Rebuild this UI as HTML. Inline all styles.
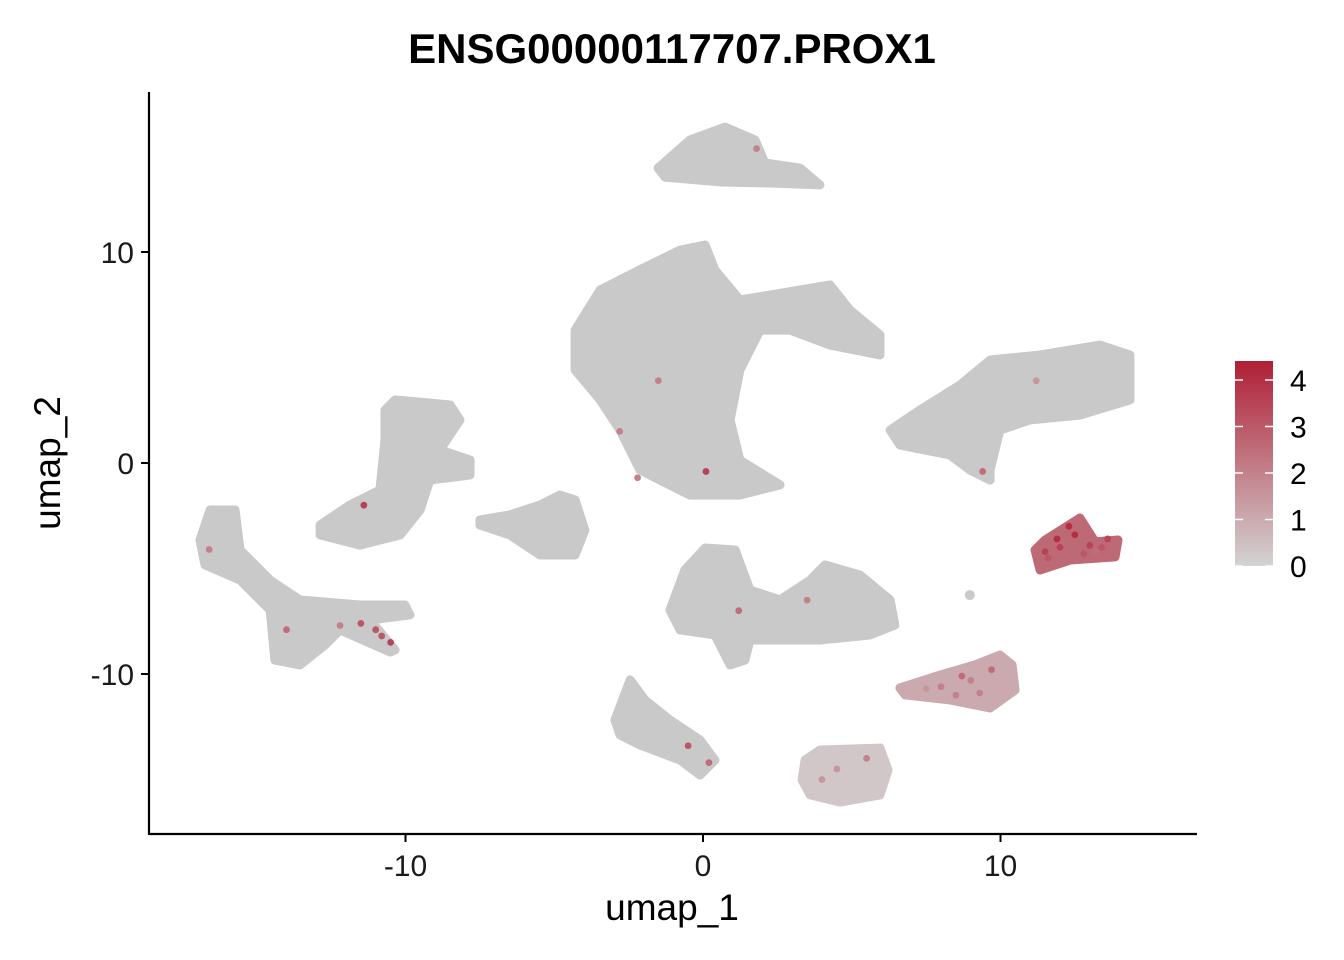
<!DOCTYPE html>
<html><head><meta charset="utf-8"><style>
html,body{margin:0;padding:0;background:#fff;}
svg{display:block;font-family:"Liberation Sans",Arial,sans-serif;}
</style></head><body>
<svg id="chart" width="1344" height="960" viewBox="0 0 1344 960" xmlns="http://www.w3.org/2000/svg">
<defs><linearGradient id="cbar" x1="0" y1="1" x2="0" y2="0">
<stop offset="0" stop-color="#d3d3d3"/><stop offset="1" stop-color="#b01f35"/></linearGradient></defs>
<text x="672" y="63" text-anchor="middle" font-size="42" font-weight="bold">ENSG00000117707.PROX1</text>
<g id="clusters"></g>
<g id="points"></g>
<g id="axes"></g>
<g>
<rect x="1235" y="361" width="38" height="205" fill="url(#cbar)"/>
<g id="legticks"></g>
</g>
<text x="672" y="920" text-anchor="middle" font-size="37">umap_1</text>
<text transform="translate(60,463) rotate(-90)" text-anchor="middle" font-size="37">umap_2</text>
</svg>
<script>
const xTicks=[-10,0,10];
const yTicks=[-10,0,10];
const legendTicks=[0,1,2,3,4];
const clusterNames=["c-top","c-big","c-right","c-midleft","c-small","c-farleft","c-midbottom","c-bottom","c-tiny","c-prox-mid","c-prox-high"];
const clusterMeans=[0,0,0,0,0,0,0,0,0.3,1.0,2.6];
const clusterShapes=[
[[-1.51,13.98],[-0.44,15.31],[0.74,15.92],[1.75,15.31],[2.08,14.22],[3.26,13.98],[3.93,13.18],[2.25,13.27],[0.57,13.32],[-1.28,13.55]],
[[-4.30,6.30],[-3.46,8.20],[-2.13,9.15],[-0.77,10.09],[0.07,10.33],[0.40,9.15],[1.24,7.73],[2.25,7.96],[3.26,8.20],[4.27,8.44],[4.94,7.25],[5.95,6.07],[5.95,5.12],[4.27,5.59],[2.92,6.30],[1.92,6.30],[1.24,4.41],[0.91,2.04],[1.24,0.14],[2.59,-1.04],[1.24,-1.52],[-0.44,-1.52],[-2.12,-0.33],[-2.79,1.56],[-3.46,2.99],[-4.30,4.41]],
[[6.29,1.56],[7.29,2.51],[8.64,3.70],[9.65,4.88],[11.33,5.12],[13.34,5.59],[14.35,5.12],[14.35,2.99],[12.67,2.27],[10.99,2.04],[9.98,1.56],[9.65,-0.33],[9.65,-0.81],[8.97,-0.33],[8.30,0.38],[6.62,0.85]],
[[-12.87,-2.94],[-11.87,-1.99],[-10.86,-1.28],[-10.69,1.09],[-10.69,2.51],[-10.35,2.99],[-8.50,2.75],[-8.17,2.04],[-8.84,0.62],[-7.83,0.14],[-7.83,-0.57],[-9.18,-0.81],[-9.51,-2.23],[-10.18,-3.41],[-11.53,-3.89],[-12.87,-3.41]],
[[-7.50,-2.70],[-6.49,-2.46],[-5.48,-1.99],[-4.81,-1.52],[-4.30,-1.75],[-3.97,-3.18],[-4.30,-4.36],[-5.48,-4.36],[-6.49,-3.41],[-7.50,-2.94]],
[[-16.91,-3.65],[-16.57,-2.23],[-15.73,-2.23],[-15.56,-4.12],[-14.55,-5.55],[-13.55,-6.49],[-11.53,-6.73],[-10.02,-6.73],[-9.85,-7.20],[-11.19,-7.44],[-10.35,-8.86],[-10.52,-8.96],[-12.20,-7.91],[-12.71,-8.63],[-13.55,-9.57],[-14.39,-9.34],[-14.55,-6.97],[-15.56,-5.55],[-16.74,-4.83]],
[[-1.11,-6.97],[-0.61,-5.07],[0.07,-4.03],[1.08,-4.12],[1.58,-6.02],[2.59,-6.49],[3.60,-5.55],[4.10,-4.83],[5.28,-5.31],[6.29,-6.49],[6.45,-7.68],[5.61,-8.15],[3.93,-8.39],[2.92,-8.39],[1.58,-8.39],[1.41,-9.34],[0.91,-9.57],[0.40,-8.15],[-0.77,-7.91]],
[[-2.96,-12.18],[-2.45,-10.28],[-1.95,-11.23],[-1.11,-12.18],[-0.10,-13.13],[0.40,-14.08],[-0.10,-14.79],[-0.77,-14.08],[-2.12,-13.36],[-2.79,-12.89]],
[[3.43,-14.08],[3.93,-13.60],[5.95,-13.51],[6.22,-14.55],[5.95,-15.73],[4.61,-16.07],[3.60,-15.73],[3.33,-15.02]],
[[6.62,-10.66],[7.97,-10.05],[9.14,-9.57],[9.98,-9.10],[10.39,-9.57],[10.49,-10.76],[9.65,-11.61],[8.30,-11.23],[6.79,-10.99]],
[[11.16,-4.12],[11.50,-3.65],[12.67,-2.61],[13.18,-3.74],[13.95,-3.65],[13.85,-4.45],[12.34,-4.60],[11.33,-5.07]]
];
const cellX=[-11.0,-10.5,-11.5,-12.2,-14.0,-16.6,-11.4,0.1,-2.2,-1.5,1.2,3.5,-0.5,0.2,9.4,11.2,1.8,12.0,12.5,13.0,11.6,13.6,12.8,11.9,13.2,8.0,9.0,9.7,7.5,8.5,4.5,5.5,4.0,-10.8,12.3,13.4,11.5,9.3,8.7,-2.8];
const cellY=[-7.9,-8.5,-7.6,-7.7,-7.9,-4.1,-2.0,-0.4,-0.7,3.9,-7.0,-6.5,-13.4,-14.2,-0.4,3.9,14.9,-4.0,-3.4,-3.9,-4.5,-3.6,-4.3,-3.6,-4.2,-10.6,-10.3,-9.8,-10.7,-11.0,-14.5,-14.0,-15.0,-8.2,-3.0,-4.0,-4.2,-10.9,-10.1,1.5];
const cellValue=[3,3.5,3,2,2.5,2,3.5,3.5,2,2,2.5,2,3,2.5,2.5,1.5,2,3.5,4,3.5,3,3.5,3,4,2.5,2,2,2.5,1.5,2,1.5,2,1.5,3,4,3,3.5,2,2.5,2];
const xs=v=>703+v*29.75;
const ys=v=>463-v*21.1;
const maxV=4.4;
function col(v){const t=Math.max(0,Math.min(1,v/maxV));
 const a=[211,211,211],b=[176,31,53];
 return 'rgb('+a.map((c,i)=>Math.round(c+(b[i]-c)*t)).join(',')+')';}
const NS="http://www.w3.org/2000/svg";
const cg=document.getElementById('clusters');
clusterShapes.forEach((pts,i)=>{
 const p=document.createElementNS(NS,'polygon');
 p.setAttribute('points',pts.map(q=>xs(q[0])+','+ys(q[1])).join(' '));
 const c=clusterMeans[i]===0?'#c9c9c9':col(clusterMeans[i]);
 p.setAttribute('fill',c);p.setAttribute('stroke',c);p.setAttribute('stroke-width','9');p.setAttribute('stroke-linejoin','round');
 
 
 cg.appendChild(p);
});
const tiny=document.createElementNS(NS,'circle');
tiny.setAttribute('cx',xs(8.97));tiny.setAttribute('cy',ys(-6.26));tiny.setAttribute('r',5);tiny.setAttribute('fill','#c9c9c9');


cg.appendChild(tiny);
const pg=document.getElementById('points');
cellX.forEach((x,i)=>{
 const c=document.createElementNS(NS,'circle');
 c.setAttribute('cx',xs(x));c.setAttribute('cy',ys(cellY[i]));c.setAttribute('r',3.4);c.setAttribute('fill',col(cellValue[i]));
 
 
 pg.appendChild(c);
});
const ax=document.getElementById('axes');
function el(tag,attrs,txt){const e=document.createElementNS(NS,tag);for(const k in attrs)e.setAttribute(k,attrs[k]);if(txt!==undefined)e.textContent=txt;return e;}
const xl=el('line',{x1:149,y1:834,x2:1197,y2:834,stroke:'#000','stroke-width':2.2});


ax.appendChild(xl);
const yl=el('line',{x1:149,y1:92,x2:149,y2:835,stroke:'#000','stroke-width':2.2});


ax.appendChild(yl);
xTicks.forEach(t=>{
 const l=el('line',{x1:xs(t),y1:834,x2:xs(t),y2:842,stroke:'#000','stroke-width':2});
 
 
 ax.appendChild(l);
 const tx=el('text',{x:xs(t),y:876,'text-anchor':'middle','font-size':30,fill:'#1a1a1a'},String(t));
 
 
 ax.appendChild(tx);
});
yTicks.forEach(t=>{
 const l=el('line',{x1:141,y1:ys(t),x2:149,y2:ys(t),stroke:'#000','stroke-width':2});
 
 
 ax.appendChild(l);
 const tx=el('text',{x:134,y:ys(t)+11,'text-anchor':'end','font-size':30,fill:'#1a1a1a'},String(t));
 
 
 ax.appendChild(tx);
});
const lg=document.getElementById('legticks');
legendTicks.forEach(t=>{
 const y=566-t*(566-380)/4;
 const a=el('line',{x1:1235,y1:y,x2:1243,y2:y,stroke:'#fff','stroke-width':1.5});
 
 
 lg.appendChild(a);
 const b=el('line',{x1:1265,y1:y,x2:1273,y2:y,stroke:'#fff','stroke-width':1.5});
 
 
 lg.appendChild(b);
 const tx=el('text',{x:1290,y:y+11,'font-size':30,fill:'#000'},String(t));
 
 
 lg.appendChild(tx);
});
</script>
</body></html>
